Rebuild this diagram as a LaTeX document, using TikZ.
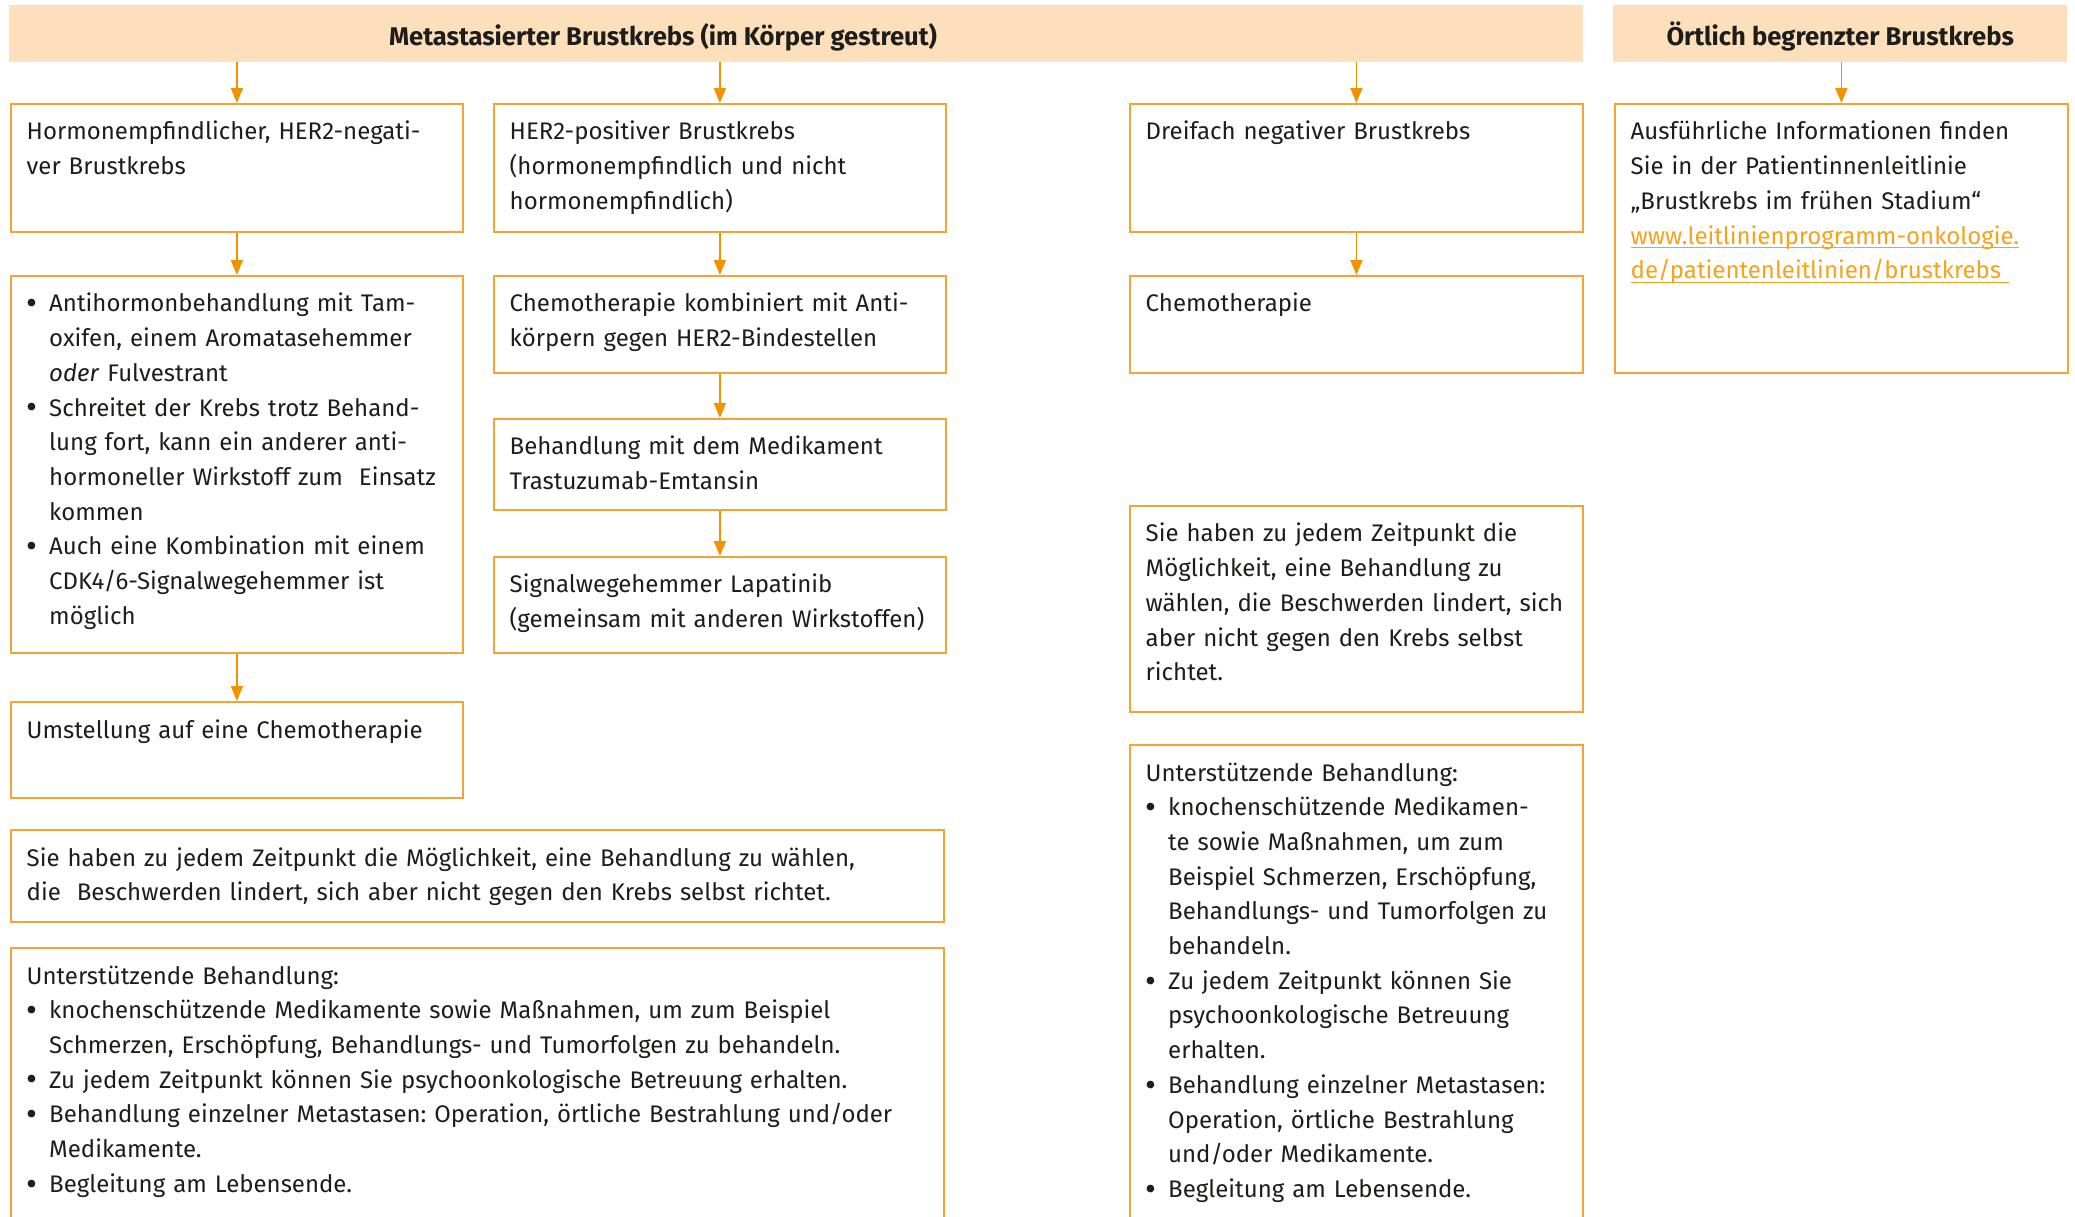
\documentclass[tikz,border=0pt]{standalone}
\usepackage{fontspec}
\setmainfont{Fira Sans}
\usetikzlibrary{arrows.meta}
\definecolor{orng}{RGB}{243,146,0}
\definecolor{bord}{RGB}{246,163,51}
\definecolor{lnkc}{RGB}{245,162,30}
\definecolor{peach}{RGB}{253,223,187}
\definecolor{ink}{RGB}{29,29,27}
\frenchspacing
\newcommand\bl[1]{\makebox[22.5pt][l]{\raisebox{-0.12em}{\scalebox{1.4}{•}}}#1}
\newcommand\cl[1]{\hspace*{22.5pt}#1}
\newcommand\lnk[1]{\setbox0=\hbox{#1}\rlap{\rule[-4pt]{\wd0}{1.2pt}}\box0}
\begin{document}
\begin{tikzpicture}[x=1pt,y=-1pt,
  box/.style={draw=bord, line width=1.8pt, anchor=north west, inner sep=0pt},
  hdr/.style={fill=peach, anchor=north west, inner sep=0pt},
  txt/.style={anchor=north west, inner sep=0pt, align=left, text=ink,
    font=\fontsize{24}{34.7}\selectfont, text width=#1},
  txt/.default=600pt,
  htxt/.style={anchor=base, inner sep=0pt, text=ink, font=\bfseries\fontsize{25.6}{30}\selectfont},
  arr/.style={draw=orng, line width=1.6pt, -{Triangle[width=12pt,length=15pt]}},
]
\useasboundingbox (0,0) rectangle (2075,1216);
\clip (0,0) rectangle (2075,1216);

% headers
\node[hdr, minimum width=1574pt, minimum height=57pt] (h1) at (9,5) {};
\node[hdr, minimum width=454pt, minimum height=57pt] (h2) at (1613,5) {};
\node[htxt] (h1t) at (663,45) {Metastasierter Brustkrebs (im Körper gestreut)};
\node[htxt] (h2t) at (h2.center |- 0,45) {Örtlich begrenzter Brustkrebs};

% column 1
\node[box, minimum width=452pt, minimum height=128pt] (b1) at (10,103) {};
\node[box, minimum width=452pt, minimum height=377pt] (b2) at (10,275) {};
\node[box, minimum width=452pt, minimum height=96pt] (b3) at (10,701) {};
% column 2
\node[box, minimum width=452pt, minimum height=128pt] (c1) at (493,103) {};
\node[box, minimum width=452pt, minimum height=97pt] (c2) at (493,275) {};
\node[box, minimum width=452pt, minimum height=91pt] (c3) at (493,418) {};
\node[box, minimum width=452pt, minimum height=96pt] (c4) at (493,556) {};
% column 3
\node[box, minimum width=453pt, minimum height=128pt] (d1) at (1129,103) {};
\node[box, minimum width=453pt, minimum height=97pt] (d2) at (1129,275) {};
\node[box, minimum width=453pt, minimum height=206pt] (d3) at (1129,505) {};
\node[box, minimum width=453pt, minimum height=520pt] (d4) at (1129,744) {};
% column 4
\node[box, minimum width=453pt, minimum height=269pt] (e1) at (1614,103) {};
% bottom left
\node[box, minimum width=933pt, minimum height=92pt] (f1) at (10,829) {};
\node[box, minimum width=933pt, minimum height=320pt] (f2) at (10,947) {};

% texts
\node[txt] (b1t) at ([shift={(16.5,12.5)}]b1.north west) {\strut Hormonempfindlicher, HER2-negati-\\ver Brustkrebs};
\node[txt] (b2t) at ([shift={(16.5,12.5)}]b2.north west) {\strut\bl{Antihormonbehandlung mit Tam-}\\\cl{oxifen, einem Aromatasehemmer}\\\cl{\textit{oder} Fulvestrant}\\\bl{Schreitet der Krebs trotz Behand-}\\\cl{lung fort, kann ein anderer anti-}\\\cl{hormoneller Wirkstoff zum\ \ Einsatz}\\\cl{kommen}\\\bl{Auch eine Kombination mit einem}\\\cl{CDK4/6-Signalwegehemmer ist}\\\cl{möglich}};
\node[txt] (b3t) at ([shift={(16.5,12.5)}]b3.north west) {\strut Umstellung auf eine Chemotherapie};

\node[txt] (c1t) at ([shift={(16.5,12.5)}]c1.north west) {\strut HER2-positiver Brustkrebs\\(hormonempfindlich und nicht\\hormonempfindlich)};
\node[txt] (c2t) at ([shift={(16.5,12.5)}]c2.north west) {\strut Chemotherapie kombiniert mit Anti-\\körpern gegen HER2-Bindestellen};
\node[txt] (c3t) at ([shift={(16.5,12.5)}]c3.north west) {\strut Behandlung mit dem Medikament\\Trastuzumab-Emtansin};
\node[txt] (c4t) at ([shift={(16.5,12.5)}]c4.north west) {\strut Signalwegehemmer Lapatinib\\(gemeinsam mit anderen Wirkstoffen)};

\node[txt] (d1t) at ([shift={(16.5,12.5)}]d1.north west) {\strut Dreifach negativer Brustkrebs};
\node[txt] (d2t) at ([shift={(16.5,12.5)}]d2.north west) {\strut Chemotherapie};
\node[txt] (d3t) at ([shift={(16.5,12.5)}]d3.north west) {\strut Sie haben zu jedem Zeitpunkt die\\Möglichkeit, eine Behandlung zu\\wählen, die Beschwerden lindert, sich\\aber nicht gegen den Krebs selbst\\richtet.};
\node[txt] (d4t) at ([shift={(16.5,12.5)}]d4.north west) {\strut Unterstützende Behandlung:\\\bl{knochenschützende Medikamen-}\\\cl{te sowie Maßnahmen, um zum}\\\cl{Beispiel Schmerzen, Erschöpfung,}\\\cl{Behandlungs- und Tumorfolgen zu}\\\cl{behandeln.}\\\bl{Zu jedem Zeitpunkt können Sie}\\\cl{psychoonkologische Betreuung}\\\cl{erhalten.}\\\bl{Behandlung einzelner Metastasen:}\\\cl{Operation, örtliche Bestrahlung}\\\cl{und/oder Medikamente.}\\\bl{Begleitung am Lebensende.}};

\node[txt] (e1t) at ([shift={(16.5,12.5)}]e1.north west) {\strut Ausführliche Informationen finden\\Sie in der Patientinnenleitlinie\\„Brustkrebs im frühen Stadium“\\\textcolor{lnkc}{\lnk{www.leitlinienprogramm-onkologie.}}\\\textcolor{lnkc}{\lnk{de/patientenleitlinien/brustkrebs\ }}};

\node[txt=1000pt] (f1t) at ([shift={(16.5,12.5)}]f1.north west) {\strut Sie haben zu jedem Zeitpunkt die Möglichkeit, eine Behandlung zu wählen,\\die\ \ Beschwerden lindert, sich aber nicht gegen den Krebs selbst richtet.};
\node[txt=1000pt] (f2t) at ([shift={(16.5,12.5)}]f2.north west) {\strut Unterstützende Behandlung:\\\bl{knochenschützende Medikamente sowie Maßnahmen, um zum Beispiel}\\\cl{Schmerzen, Erschöpfung, Behandlungs- und Tumorfolgen zu behandeln.}\\\bl{Zu jedem Zeitpunkt können Sie psychoonkologische Betreuung erhalten.}\\\bl{Behandlung einzelner Metastasen: Operation, örtliche Bestrahlung und/oder}\\\cl{Medikamente.}\\\bl{Begleitung am Lebensende.}};

% arrows
\draw[arr] (b1.north |- h1.south) -- (b1.north);
\draw[arr] (c1.north |- h1.south) -- (c1.north);
\draw[arr] (d1.north |- h1.south) -- (d1.north);
\draw[arr] (e1.north |- h2.south) -- (e1.north);
\draw[arr] (b1.south) -- (b2.north);
\draw[arr] (b2.south) -- (b3.north);
\draw[arr] (c1.south) -- (c2.north);
\draw[arr] (c2.south) -- (c3.north);
\draw[arr] (c3.south) -- (c4.north);
\draw[arr] (d1.south) -- (d2.north);
\end{tikzpicture}
\end{document}
